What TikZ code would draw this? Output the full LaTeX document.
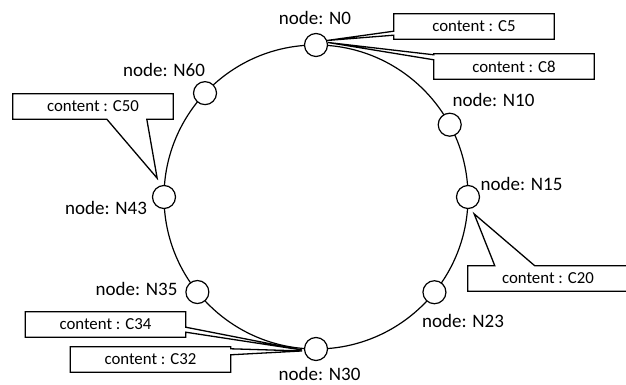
\documentclass[tikz,border=0pt]{standalone}
\usepackage{fontspec}
\setmainfont{Carlito}
\usetikzlibrary{calc}
\begin{document}
\begin{tikzpicture}[x=1pt,y=1pt,
  ring/.style={line width=1.2pt},
  peer/.style={circle, draw, line width=1.2pt, fill=white, minimum size=23pt, inner sep=0pt},
  lbl/.style={font=\fontsize{19}{22}\selectfont, inner sep=0pt},
  memo/.style={font=\fontsize{16.8}{20}\selectfont, minimum width=160pt, minimum height=25pt, inner sep=0pt},
  callout/.style={line width=1.3pt, line join=miter}]
\useasboundingbox (0,0) rectangle (626,385);

% the ring and its peers
\coordinate (ctr) at (316,188);
\draw[ring] (ctr) circle[radius=152];
\node[peer] (n0)  at ($(ctr)+(90:152)$)    {};
\node[peer] (n10) at ($(ctr)+(28.4:152)$)  {};
\node[peer] (n15) at ($(ctr)+(0:152)$)     {};
\node[peer] (n23) at ($(ctr)+(-38.8:152)$) {};
\node[peer] (n30) at ($(ctr)+(-90:152)$)   {};
\node[peer] (n35) at ($(ctr)+(218.7:152)$) {};
\node[peer] (n43) at ($(ctr)+(180:152)$)   {};
\node[peer] (n60) at ($(ctr)+(136.9:152)$) {};

% peer names
\node[lbl] (l0)  at (315,367)   {node: N0};
\node[lbl] (l10) at (493.5,285) {node: N10};
\node[lbl] (l15) at (521.5,201) {node: N15};
\node[lbl] (l23) at (463,64)    {node: N23};
\node[lbl] (l30) at (319.5,11)  {node: N30};
\node[lbl] (l35) at (136.5,96)  {node: N35};
\node[lbl] (l43) at (106,177)   {node: N43};
\node[lbl] (l60) at (164,315)   {node: N60};

% stored contents
\node[memo] (c5)  at (474,358.5)   {content : C5};
\node[memo] (c8)  at (514,318.5)   {content : C8};
\node[memo] (c50) at (93,278.5)    {content : C50};
\node[memo] (c20) at (548,106.5)   {content : C20};
\node[memo] (c34) at (105.5,60.5)  {content : C34};
\node[memo] (c32) at (150.5,25.5)  {content : C32};

% pointer tips
\coordinate (t50) at ($(n43.center)+(110:20)$);
\coordinate (t20) at ($(n15.center)+(-70:18)$);
\coordinate (t34) at ($(n30.center)+(184:14)$);
\coordinate (t32) at ($(n30.center)+(188:14)$);

% callout outlines
\draw[callout] (c5.north west) -- (c5.north east) -- (c5.south east) -- (c5.south west)
  -- ([yshift=4pt]c5.south west) -- (n0.22) -- ([yshift=8pt]c5.south west) -- cycle;
\draw[callout] (c8.north east) -- (c8.south east) -- (c8.south west)
  -- ([yshift=-6pt]c8.north west) -- (n0.12) -- ([yshift=-1pt]c8.north west)
  -- (c8.north west) -- cycle;
\draw[callout] (c50.north west) -- (c50.north east) -- (c50.south east)
  -- ([xshift=134pt]c50.south west) -- (t50) -- ([xshift=94pt]c50.south west)
  -- (c50.south west) -- cycle;
\draw[callout] (c20.south west) -- (c20.south east) -- (c20.north east)
  -- ([xshift=67pt]c20.north west) -- (t20) -- ([xshift=27pt]c20.north west)
  -- (c20.north west) -- cycle;
\draw[callout] (c34.north east) -- (c34.north west) -- (c34.south west) -- (c34.south east)
  -- ([yshift=5pt]c34.south east) -- (t34) -- ([yshift=10pt]c34.south east) -- cycle;
\draw[callout] (c32.south east) -- (c32.south west) -- (c32.north west) -- (c32.north east)
  -- ([yshift=-2pt]c32.north east) -- (t32) -- ([yshift=-8pt]c32.north east) -- cycle;
\end{tikzpicture}
\end{document}
